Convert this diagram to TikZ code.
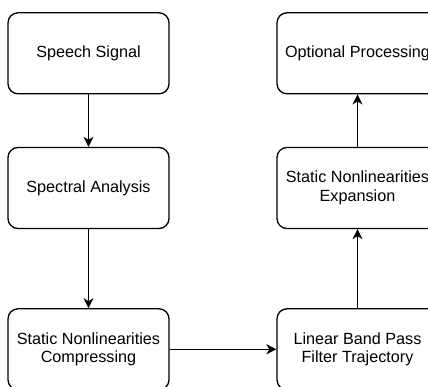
\documentclass[tikz,border=0pt]{standalone}
\usepackage{fontspec}
\setmainfont{Liberation Sans}
\usetikzlibrary{arrows.meta,positioning}

\begin{document}
\begin{tikzpicture}[x=1pt, y=-1pt,
    block/.style={draw, line width=1.3pt, rounded corners=10pt, minimum width=161pt,
        minimum height=81pt, align=center, font=\fontsize{16.2}{18.5}\selectfont},
    flow/.style={-{Stealth[length=10pt, width=10pt, inset=3pt]}, line width=1.3pt}]
    \useasboundingbox (0,0) rectangle (428,387);

    % Left column
    \node[block] (speech) at (88.5, 53.3) {Speech Signal};
    \node[block] (spectral) at (88.5, 188) {Spectral Analysis};
    \node[block] (compress) at (88.5, 349.3) {Static Nonlinearities\\Compressing};

    % Right column
    \node[block] (bandpass) at (357.5, 349.3) {Linear Band Pass\\Filter Trajectory};
    \node[block] (expand) at (357.5, 188) {Static Nonlinearities\\Expansion};
    \node[block] (optional) at (357.5, 53.3) {Optional Processing};

    % Connections
    \draw[flow] (speech) -- (spectral);
    \draw[flow] (spectral) -- (compress);
    \draw[flow] (compress) -- (bandpass);
    \draw[flow] (bandpass) -- (expand);
    \draw[flow] (expand) -- (optional);
\end{tikzpicture}
\end{document}
